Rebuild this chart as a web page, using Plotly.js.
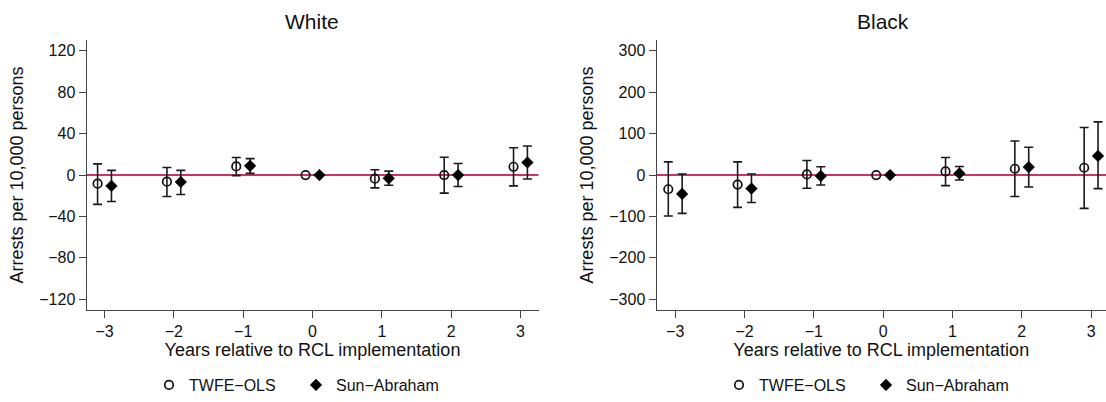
<!DOCTYPE html>
<html>
<head>
<meta charset="utf-8">
<script src="https://cdn.plot.ly/plotly-3.0.1.min.js"></script>
<style>
  html, body { margin: 0; padding: 0; background: #fff; }
  #chart { width: 1106px; height: 402px; }
</style>
</head>
<body>
<div id="chart"></div>
<script>
// ---- data ----
const years = [-3, -2, -1, 0, 1, 2, 3];
const tickYears = [-3, -2, -1, 0, 1, 2, 3];

// White panel
const whiteTwfeEst = [-8.3, -6.4, 8.3, 0, -3.5, 0, 8.0];
const whiteTwfeHi  = [10.8, 7.3, 16.9, null, 5.1, 17.2, 26.4];
const whiteTwfeLo  = [-28.3, -20.7, -0.6, null, -12.4, -17.5, -10.5];
const whiteSaEst   = [-10.5, -6.7, 8.9, 0, -3.2, 0, 12.1];
const whiteSaHi    = [4.5, 4.5, 15.9, null, 3.8, 11.1, 28.0];
const whiteSaLo    = [-25.5, -18.8, 1.6, null, -9.9, -11.1, -3.8];
const whiteTicks   = [-120, -80, -40, 0, 40, 80, 120];

// Black panel
const blackTwfeEst = [-34.3, -23.1, 1.6, 0, 8.8, 15.2, 17.6];
const blackTwfeHi  = [31.9, 31.9, 35.1, null, 42.3, 82.2, 115.0];
const blackTwfeLo  = [-99.0, -78.2, -31.9, null, -25.5, -51.9, -80.6];
const blackSaEst   = [-45.5, -32.7, -2.4, 0, 4.0, 19.2, 46.3];
const blackSaHi    = [2.4, 2.4, 20.0, null, 20.7, 67.0, 128.5];
const blackSaLo    = [-92.6, -66.2, -23.9, null, -12.0, -28.7, -32.7];
const blackTicks   = [-300, -200, -100, 0, 100, 200, 300];

const panelTitles = ['White', 'Black'];
const seriesNames = ['TWFE\u2212OLS', 'Sun\u2212Abraham'];
const xTitle = 'Years relative to RCL implementation';
const yTitle = 'Arrests per 10,000 persons';

// ---- styling ----
const FONT = '"Liberation Sans", Arial, Helvetica, sans-serif';
const TXT = '#111';
const REF = '#cc3360';
const W = 1106, H = 402;
const OFF = 0.1;

function errs(est, hi, lo) {
  return {
    plus: est.map((e, i) => hi[i] == null ? NaN : hi[i] - e),
    minus: est.map((e, i) => lo[i] == null ? NaN : e - lo[i])
  };
}

function makeTraces(twEst, twHi, twLo, saEst, saHi, saLo, xa, ya, leg) {
  const e1 = errs(twEst, twHi, twLo);
  const e2 = errs(saEst, saHi, saLo);
  const errStyle = { color: '#1a1a1a', thickness: 1.6, width: 4.5 };
  return [
    {
      type: 'scatter', mode: 'markers', name: seriesNames[0],
      x: years.map(v => v - OFF), y: twEst, xaxis: xa, yaxis: ya, legend: leg,
      legendwidth: 102,
      marker: { symbol: 'circle-open', size: 8.5, color: '#111', line: { width: 1.7, color: '#111' } },
      error_y: Object.assign({ type: 'data', symmetric: false, array: e1.plus, arrayminus: e1.minus }, errStyle),
      hoverinfo: 'x+y'
    },
    {
      type: 'scatter', mode: 'markers', name: seriesNames[1],
      x: years.map(v => v + OFF), y: saEst, xaxis: xa, yaxis: ya, legend: leg,
      marker: { symbol: 'diamond', size: 9, color: '#000', line: { width: 0.5, color: '#000' } },
      error_y: Object.assign({ type: 'data', symmetric: false, array: e2.plus, arrayminus: e2.minus }, errStyle),
      hoverinfo: 'x+y'
    }
  ];
}

const traces = [].concat(
  makeTraces(whiteTwfeEst, whiteTwfeHi, whiteTwfeLo, whiteSaEst, whiteSaHi, whiteSaLo, 'x', 'y', 'legend'),
  makeTraces(blackTwfeEst, blackTwfeHi, blackTwfeLo, blackSaEst, blackSaHi, blackSaLo, 'x2', 'y2', 'legend2')
);

const yDom = [1 - 313.5 / H, 1 - 41 / H];
const xDom1 = [86.5 / W, 538.5 / W];
const xDom2 = [656.5 / W, 1];

function xAxis(range, dom, anchor) {
  return {
    domain: dom, range: range, anchor: anchor,
    tickvals: tickYears, ticktext: tickYears.map(v => v < 0 ? '\u2212' + Math.abs(v) : String(v)),
    ticks: 'outside', ticklen: 7, tickwidth: 1, tickcolor: '#444',
    showline: true, linecolor: '#444', linewidth: 1,
    showgrid: false, zeroline: false,
    tickfont: { family: FONT, size: 16, color: TXT },
    title: { text: xTitle, font: { family: FONT, size: 18, color: TXT }, standoff: 2 },
    fixedrange: true
  };
}
function yAxis(range, ticks, anchor) {
  return {
    domain: yDom, range: range, anchor: anchor,
    tickvals: ticks, ticktext: ticks.map(v => v < 0 ? '\u2212' + Math.abs(v) : String(v)),
    ticks: 'outside', ticklen: 7, tickwidth: 1, tickcolor: '#444',
    showline: true, linecolor: '#444', linewidth: 1,
    showgrid: false, zeroline: false,
    tickfont: { family: FONT, size: 16, color: TXT },
    title: { text: yTitle, font: { family: FONT, size: 18, color: TXT }, standoff: 10 },
    fixedrange: true
  };
}

const legendBase = {
  orientation: 'h', xanchor: 'left', yanchor: 'middle', y: 1 - 390 / H,
  font: { family: FONT, size: 16, color: TXT }, itemwidth: 30, bgcolor: 'rgba(0,0,0,0)',
  traceorder: 'normal', borderwidth: 0
};

const layout = {
  width: W, height: H,
  margin: { l: 0, r: 0, t: 0, b: 0 },
  paper_bgcolor: '#fff', plot_bgcolor: '#fff',
  font: { family: FONT, color: TXT },
  showlegend: true,
  xaxis: xAxis([-3.26, 3.26], xDom1, 'y'),
  yaxis: yAxis([-130, 130], whiteTicks, 'x'),
  xaxis2: xAxis([-3.27, 3.215], xDom2, 'y2'),
  yaxis2: yAxis([-325, 325], blackTicks, 'x2'),
  legend: Object.assign({}, legendBase, { x: (169 - 20) / W }),
  legend2: Object.assign({}, legendBase, { x: (739 - 20) / W }),
  shapes: [
    { type: 'line', xref: 'x domain', yref: 'y', x0: 0, x1: 1, y0: 0, y1: 0, layer: 'below', line: { color: REF, width: 2 } },
    { type: 'line', xref: 'x2 domain', yref: 'y2', x0: 0, x1: 1, y0: 0, y1: 0, layer: 'below', line: { color: REF, width: 2 } }
  ],
  annotations: [
    { text: panelTitles[0], xref: 'paper', yref: 'paper', x: (xDom1[0] + xDom1[1]) / 2, y: 1 - 22 / H, xanchor: 'center', yanchor: 'middle', showarrow: false, font: { family: FONT, size: 21, color: TXT } },
    { text: panelTitles[1], xref: 'paper', yref: 'paper', x: (656.5 + 1109) / 2 / W, y: 1 - 22 / H, xanchor: 'center', yanchor: 'middle', showarrow: false, font: { family: FONT, size: 21, color: TXT } }
  ]
};

Plotly.newPlot('chart', traces, layout, { displayModeBar: false, staticPlot: true });
</script>
</body>
</html>
